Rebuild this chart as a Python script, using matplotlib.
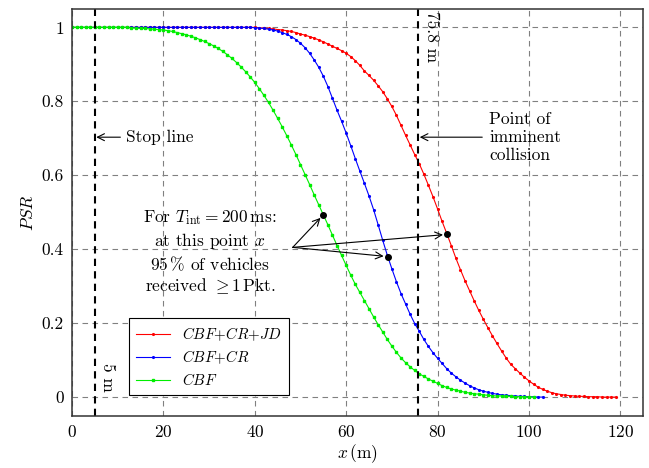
import matplotlib
matplotlib.use('Agg')
import matplotlib.pyplot as plt

plt.rcParams['font.family'] = ['cmr10', 'DejaVu Serif']
plt.rcParams['mathtext.fontset'] = 'cm'
plt.rcParams['axes.formatter.use_mathtext'] = True
plt.rcParams['font.size'] = 12.5

# PSR values, one point per metre
x_red = list(range(0, 120))
psr_red = [1.0] * 41 + [
    0.999, 0.998, 0.997, 0.996, 0.994, 0.993, 0.991, 0.989, 0.986,            # 41-49
    0.982, 0.979, 0.975, 0.971, 0.966, 0.961, 0.955, 0.949, 0.943, 0.937,     # 50-59
    0.930, 0.921, 0.910, 0.897, 0.882, 0.870, 0.857, 0.842, 0.826, 0.807,     # 60-69
    0.786, 0.762, 0.735, 0.708, 0.682, 0.656, 0.631, 0.603, 0.573, 0.542,     # 70-79
    0.509, 0.475, 0.443, 0.410, 0.376, 0.345, 0.315, 0.288, 0.261, 0.235,     # 80-89
    0.211, 0.188, 0.166, 0.145, 0.125, 0.106, 0.089, 0.077, 0.065, 0.054,     # 90-99
    0.044, 0.035, 0.027, 0.021, 0.016, 0.012, 0.009, 0.007, 0.005, 0.004,     # 100-109
    0.003, 0.002, 0.002, 0.001, 0.001, 0.001, 0.0, 0.0, 0.0, 0.0,             # 110-119
]

x_blue = list(range(0, 104))
psr_blue = [1.0] * 40 + [
    0.999, 0.998, 0.997, 0.995, 0.993, 0.990, 0.986, 0.981, 0.975, 0.967,     # 40-49
    0.957, 0.945, 0.930, 0.912, 0.892, 0.868, 0.840, 0.808, 0.776, 0.746,     # 50-59
    0.714, 0.680, 0.645, 0.611, 0.578, 0.544, 0.507, 0.466, 0.424, 0.384,     # 60-69
    0.347, 0.312, 0.280, 0.252, 0.224, 0.199, 0.178, 0.156, 0.137, 0.120,     # 70-79
    0.105, 0.091, 0.077, 0.065, 0.055, 0.046, 0.038, 0.031, 0.025, 0.020,     # 80-89
    0.016, 0.013, 0.010, 0.008, 0.006, 0.005, 0.004, 0.003, 0.002, 0.002,     # 90-99
    0.001, 0.001, 0.0, 0.0,                                                   # 100-103
]

x_green = list(range(0, 102))
psr_green = [1.0] * 13 + [
    0.998, 0.998, 0.997, 0.997, 0.996, 0.995, 0.994,                          # 13-19
    0.993, 0.991, 0.989, 0.986, 0.983, 0.980, 0.976, 0.972, 0.967, 0.962,     # 20-29
    0.956, 0.950, 0.943, 0.935, 0.926, 0.916, 0.905, 0.893, 0.880, 0.866,     # 30-39
    0.851, 0.834, 0.816, 0.797, 0.776, 0.754, 0.731, 0.707, 0.682, 0.656,     # 40-49
    0.629, 0.602, 0.575, 0.547, 0.520, 0.493, 0.466, 0.438, 0.410, 0.383,     # 50-59
    0.356, 0.330, 0.305, 0.283, 0.261, 0.239, 0.217, 0.196, 0.176, 0.156,     # 60-69
    0.138, 0.121, 0.106, 0.093, 0.082, 0.072, 0.063, 0.056, 0.049, 0.043,     # 70-79
    0.037, 0.031, 0.026, 0.022, 0.019, 0.016, 0.013, 0.011, 0.009, 0.008,     # 80-89
    0.006, 0.005, 0.004, 0.003, 0.003, 0.002, 0.002, 0.001, 0.001, 0.001,     # 90-99
    0.0, 0.0,                                                                 # 100-101
]

labels = [r'$\mathit{CBF{+}CR{+}JD}$', r'$\mathit{CBF{+}CR}$', r'$\mathit{CBF}$']

# 95 % points and marker lines
pts_x = [55.0, 69.1, 82.1]
pts_y = [0.493, 0.380, 0.440]
stop_line = 5
collision = 75.8

fig = plt.figure(figsize=(6.49, 4.68), dpi=100, facecolor='white')
ax = fig.add_axes([0.111, 0.112, 0.880, 0.869])

ax.plot(x_red, psr_red, color='red', lw=0.8, marker='.', ms=2.5, label=labels[0])
ax.plot(x_blue, psr_blue, color='blue', lw=0.8, marker='.', ms=2.5, label=labels[1])
ax.plot(x_green, psr_green, color='#00ee00', lw=0.8, marker='s', ms=1.6, label=labels[2])

ax.axvline(stop_line, color='black', lw=1.5, ls=(0, (3.5, 2.5)))
ax.axvline(collision, color='black', lw=1.5, ls=(0, (3.5, 2.5)))

ax.text(stop_line + 1.2, 0.015, '5 m', rotation=-90, ha='left', va='bottom')
ax.text(collision + 1.2, 1.045, '75.8 m', rotation=-90, ha='left', va='top')

ax.annotate('Stop line', xy=(stop_line + 0.3, 0.703), xytext=(11.8, 0.703),
            va='center', ha='left',
            arrowprops=dict(arrowstyle='->', color='black', lw=0.8, shrinkA=2, shrinkB=0))
ax.annotate('Point of\nimminent\ncollision', xy=(collision + 0.3, 0.703), xytext=(91.3, 0.703),
            va='center', ha='left', linespacing=1.2,
            arrowprops=dict(arrowstyle='->', color='black', lw=0.8, shrinkA=3, shrinkB=0))

ax.text(30.2, 0.392, 'For $T_{\\rm int} = 200\\,$ms:\nat this point $x$\n95$\\,$% of vehicles\nreceived $\\geq 1\\,$Pkt.',
        ha='center', va='center', linespacing=1.25)
for px, py in zip(pts_x, pts_y):
    ax.annotate('', xy=(px, py), xytext=(48.3, 0.405),
                arrowprops=dict(arrowstyle='->', color='black', lw=0.8, shrinkA=0, shrinkB=3))
ax.plot(pts_x, pts_y, 'o', color='black', ms=4, zorder=5)

ax.set_xlim(0, 125)
ax.set_ylim(-0.05, 1.05)
ax.set_xticks([0, 20, 40, 60, 80, 100, 120])
ax.set_yticks([0, 0.2, 0.4, 0.6, 0.8, 1])
ax.set_yticklabels(['0', '0.2', '0.4', '0.6', '0.8', '1'])
ax.set_xlabel('$x\\,$(m)', labelpad=2)
ax.set_ylabel('$\\mathit{PSR}$')
ax.grid(True, color='gray', ls=(0, (5, 4)), lw=0.8)
ax.set_axisbelow(True)
ax.tick_params(direction='in', length=0, pad=6)
for s in ax.spines.values():
    s.set_color('#333333')
    s.set_linewidth(1.1)

leg = ax.legend(loc='lower left', bbox_to_anchor=(0.1, 0.05), borderaxespad=0,
                fancybox=False, edgecolor='black', framealpha=1, fontsize=10.8,
                handlelength=2.3, borderpad=0.45, labelspacing=0.4)
leg.get_frame().set_linewidth(0.8)

fig.savefig('out.png', dpi=100, facecolor='white')
